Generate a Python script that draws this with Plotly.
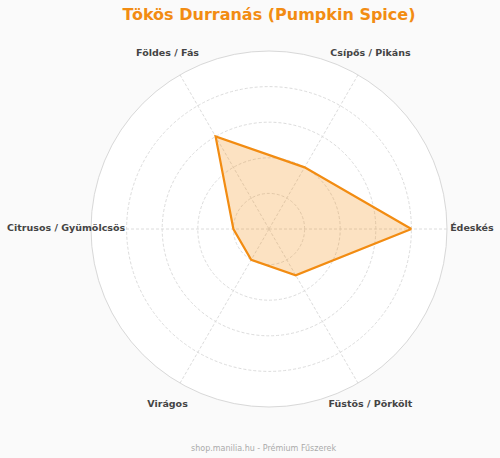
import plotly.graph_objects as go

# flavour profile, 0-5 scale
categories = ["Édeskés", "Csípős / Pikáns", "Földes / Fás",
              "Citrusos / Gyümölcsös", "Virágos", "Füstös / Pörkölt"]
values = [4, 2, 3, 1, 1, 1.5]

title_text = "Tökös Durranás (Pumpkin Spice)"
footer_text = "shop.manilia.hu - Prémium Fűszerek"

r_max = 5
label_r = 5.7  # category labels sit centred just outside the outer ring

# close the polygon
r_closed = values + values[:1]
theta_closed = categories + categories[:1]

W, H = 500, 458
cx, cy, rad = 269, 229, 178   # chart centre / radius in px
rad_lbl = rad * label_r / r_max


def dom(radius):
    # square domain (paper fractions) round the chart centre
    return dict(x=[(cx - radius) / W, (cx + radius) / W],
                y=[(H - cy - radius) / H, (H - cy + radius) / H])


fig = go.Figure()
fig.add_trace(go.Scatterpolar(
    r=r_closed,
    theta=theta_closed,
    mode="lines",
    fill="toself",
    fillcolor="rgba(245,140,10,0.25)",
    line=dict(color="#F28C12", width=2.2),
    hoverinfo="skip",
))

# category labels on an overlay polar whose edge is at label_r
fig.add_trace(go.Scatterpolar(
    r=[label_r] * len(categories),
    theta=categories,
    mode="text",
    text=categories,
    textposition="middle center",
    textfont=dict(size=9.5, color="#444444", family="DejaVu Sans", weight="bold"),
    cliponaxis=False,
    hoverinfo="skip",
    subplot="polar2",
))

fig.update_layout(
    width=W, height=H,
    margin=dict(l=0, r=0, t=0, b=0),
    paper_bgcolor="#FAFAFA",
    showlegend=False,
    font=dict(family="DejaVu Sans"),
    title=dict(
        text="<b>" + title_text + "</b>",
        x=0.538, xanchor="center",
        y=0.969, yanchor="middle",
        font=dict(size=16, color="#F28C12", family="DejaVu Sans"),
    ),
    polar=dict(
        domain=dom(rad),
        bgcolor="white",
        radialaxis=dict(
            range=[0, r_max], dtick=1,
            showticklabels=False, ticks="",
            showline=False,
            gridcolor="#DCDCDC", griddash="3px,2px", gridwidth=1,
        ),
        angularaxis=dict(
            direction="counterclockwise", rotation=0,
            categoryarray=categories, categoryorder="array",
            showticklabels=False, ticks="",
            showline=True, linecolor="#D8D8D8", linewidth=1,
            gridcolor="#DCDCDC", griddash="3px,2px", gridwidth=1,
        ),
    ),
    polar2=dict(
        domain=dom(rad_lbl),
        bgcolor="rgba(0,0,0,0)",
        radialaxis=dict(range=[0, label_r], visible=False),
        angularaxis=dict(
            direction="counterclockwise", rotation=0,
            categoryarray=categories, categoryorder="array",
            visible=False,
        ),
    ),
    annotations=[dict(
        text=footer_text,
        xref="paper", yref="paper",
        x=263 / W, y=(H - 448) / H,
        xanchor="center", yanchor="middle",
        showarrow=False,
        font=dict(size=8, color="#AAAAAA", family="DejaVu Sans"),
    )],
)

# the page body has a default 8px margin; drop it so the figure fills the window
fig.write_html("out.html", config={"displayModeBar": False},
               post_script="document.body.style.margin='0px';")
